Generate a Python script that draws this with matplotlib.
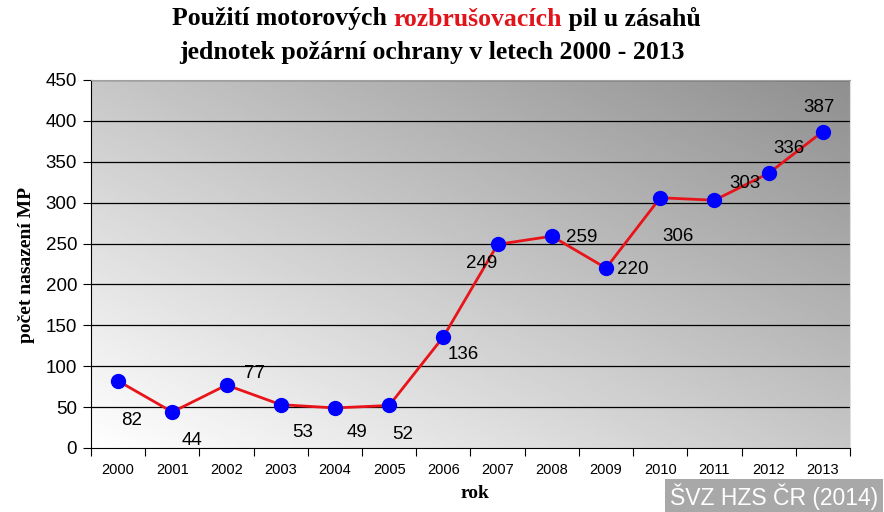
import numpy as np
import matplotlib
matplotlib.use("Agg")
import matplotlib.pyplot as plt

years = ["2000", "2001", "2002", "2003", "2004", "2005", "2006",
         "2007", "2008", "2009", "2010", "2011", "2012", "2013"]
counts = [82, 44, 77, 53, 49, 52, 136, 249, 259, 220, 306, 303, 336, 387]
# label offsets in pixels (dx, dy) relative to each point
label_offsets = [(14, -40), (20, -28), (28, 12), (22, -28), (22, -25), (14, -29),
                 (20, -18), (-16, -19), (30, -1), (27, -1), (18, -39), (31, 17),
                 (20, 25), (-4, 24)]

SERIF = "Liberation Serif"
SANS = "Liberation Sans"

fig = plt.figure(figsize=(8.84, 5.12), dpi=100)
fig.patch.set_facecolor("white")
ax = fig.add_axes([91 / 884, 1 - 448 / 512, (850 - 91) / 884, (448 - 80) / 512])

# diagonal gray gradient background
u, v = np.meshgrid(np.linspace(0, 1, 300), np.linspace(0, 1, 300))
grad = 1 - 0.22 * (u + v)
ax.imshow(grad, cmap="gray", vmin=0, vmax=1, extent=(0, 1, 0, 1), origin="lower",
          transform=ax.transAxes, aspect="auto", zorder=0, interpolation="bilinear")

x = np.arange(len(years))
ax.set_xlim(-0.5, len(years) - 0.5)
ax.set_ylim(0, 450)
ax.set_yticks(np.arange(0, 451, 50))
for yv in range(50, 451, 50):
    ax.axhline(yv, color="black", linewidth=0.9, zorder=1)

ax.plot(x, counts, color="#e8141a", linewidth=2, zorder=3)
ax.plot(x, counts, "o", color="#0000ff", markersize=10, zorder=4)

for xi, yi, (dx, dy) in zip(x, counts, label_offsets):
    ax.annotate(str(yi), (xi, yi), xytext=(dx * 0.72, dy * 0.72), textcoords="offset points",
                ha="center", va="center", fontsize=13.5, family=SANS, color="black", zorder=5)

ax.set_xticks(np.arange(-0.5, len(years), 1))
ax.set_xticklabels([])
ax.set_xticks(x, minor=True)
ax.set_xticklabels(years, minor=True, family=SANS, fontsize=10.5)
ax.tick_params(axis="x", which="major", direction="out", length=6, width=0.8)
ax.tick_params(axis="x", which="minor", length=0, pad=11)
ax.tick_params(axis="y", direction="out", length=6, width=0.8, labelsize=13.5, pad=4)
for lab in ax.get_yticklabels():
    lab.set_family(SANS)

ax.spines["left"].set_color("black")
ax.spines["bottom"].set_color("black")
ax.spines["top"].set_color("#a0a0a0")
ax.spines["right"].set_color("#e0e0e0")

fig.text(27 / 884, 1 - 265 / 512, "počet nasazení MP", rotation=90, ha="center", va="center",
         family=SERIF, fontweight="bold", fontsize=14)
fig.text(475 / 884, 1 - 493 / 512, "rok", ha="center", va="center",
         family=SERIF, fontweight="bold", fontsize=14)

# title with red word
fig.canvas.draw()
renderer = fig.canvas.get_renderer()
parts = [("Použití motorových ", "black"), ("rozbrušovacích", "#e0141a"), (" pil u zásahů", "black")]
tfs = 18.5
texts = []
for s, c in parts:
    t = fig.text(0, 1 - 19 / 512, s, ha="left", va="center", family=SERIF,
                 fontweight="bold", fontsize=tfs, color=c)
    texts.append(t)
fig.canvas.draw()
widths = [t.get_window_extent(renderer).width for t in texts]
total = sum(widths)
x0 = 436 - total / 2
for t, w in zip(texts, widths):
    t.set_x(x0 / 884)
    x0 += w
fig.text(432 / 884, 1 - 52 / 512, "jednotek požární ochrany v letech 2000 - 2013", ha="center",
         va="center", family=SERIF, fontweight="bold", fontsize=tfs)

# source watermark
fig.text(774 / 884, 1 - 497 / 512, "ŠVZ HZS ČR (2014)", ha="center", va="center",
         family=SANS, fontsize=16.5, color="white",
         bbox=dict(boxstyle="square,pad=0.2", facecolor="#a8a8a8", edgecolor="none"))

fig.savefig("out.png", dpi=100)
